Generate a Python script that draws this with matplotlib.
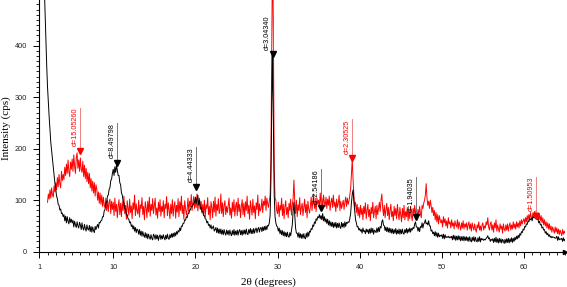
import numpy as np
import matplotlib
matplotlib.use("Agg")
import matplotlib.pyplot as plt
from matplotlib.ticker import FixedLocator, MultipleLocator

# ---------------- data ----------------
step = 0.1
black_start = 1.4
black_counts = [
    700, 610, 520, 465, 410, 362,                        # 1.4 - 1.9
    320, 290, 262, 236, 212, 196, 178, 162, 148, 133,    # 2.0
    122, 108, 103, 92, 90, 81, 83, 74, 75, 68,           # 3.0
    72, 60, 69, 56, 68, 59, 54, 66, 57, 63,              # 4.0
    56, 61, 48, 59, 52, 47, 58, 50, 46, 57,              # 5.0
    52, 43, 56, 46, 42, 53, 45, 40, 52, 44,              # 6.0
    42, 51, 39, 49, 38, 48, 41, 37, 49, 43,              # 7.0
    49, 53, 46, 57, 56, 60, 61, 68, 68, 79,              # 8.0
    82, 94, 96, 108, 110, 121, 124, 138, 141, 152,       # 9.0
    160, 148, 165, 154, 168, 158, 148, 148, 134, 130,    # 10.0
    114, 110, 98, 95, 84, 82, 72, 72, 64, 63,            # 11.0
    56, 58, 49, 52, 44, 50, 40, 47, 37, 44,              # 12.0
    42, 34, 43, 32, 40, 30, 39, 32, 28, 37,              # 13.0
    27, 35, 25, 34, 28, 24, 33, 26, 23, 34,              # 14.0
    31, 24, 33, 25, 32, 22, 29, 33, 24, 31,              # 15.0
    25, 33, 27, 23, 32, 25, 34, 26, 24, 33,              # 16.0
    27, 35, 28, 36, 29, 37, 31, 39, 34, 41,              # 17.0
    38, 46, 41, 50, 49, 55, 55, 62, 61, 68,              # 18.0
    66, 74, 74, 81, 81, 88, 88, 90, 94, 96,              # 19.0
    106, 94, 102, 110, 91, 100, 84, 86, 78, 78,          # 20.0
    70, 70, 64, 63, 56, 59, 51, 53, 46, 52,              # 21.0
    44, 47, 50, 40, 43, 47, 37, 46, 36, 44,              # 22.0
    35, 44, 34, 42, 33, 43, 36, 32, 42, 34,              # 23.0
    41, 32, 42, 35, 31, 41, 33, 43, 32, 40,              # 24.0
    33, 42, 32, 40, 43, 33, 41, 32, 42, 34,              # 25.0
    42, 34, 44, 35, 33, 43, 36, 45, 35, 43,              # 26.0
    35, 45, 36, 43, 46, 37, 44, 47, 38, 46,              # 27.0
    47, 39, 48, 41, 49, 42, 50, 43, 51, 50,              # 28.0
    56, 70, 140, 290, 385, 250, 110, 68, 56, 50,         # 29.0
    48, 40, 46, 35, 42, 33, 41, 31, 39, 30,              # 30.0
    37, 29, 38, 30, 28, 37, 31, 42, 52, 78,              # 31.0
    96, 70, 46, 36, 36, 28, 37, 27, 35, 26,              # 32.0
    34, 26, 35, 27, 25, 36, 28, 38, 30, 40,              # 33.0
    38, 45, 43, 52, 49, 58, 55, 64, 61, 68,              # 34.0
    66, 72, 64, 70, 62, 74, 60, 68, 58, 64,              # 35.0
    55, 63, 52, 60, 50, 58, 49, 57, 47, 56,              # 36.0
    48, 57, 46, 55, 47, 56, 48, 45, 57, 48,              # 37.0
    55, 47, 58, 49, 57, 55, 58, 57, 64, 74,              # 38.0
    95, 112, 120, 96, 78, 62, 56, 48, 49, 42,            # 39.0
    45, 40, 43, 36, 46, 39, 41, 35, 44, 38,              # 40.0
    43, 35, 44, 36, 46, 37, 45, 34, 42, 40,              # 41.0
    37, 46, 38, 47, 39, 49, 46, 58, 62, 52,              # 42.0
    50, 41, 48, 39, 47, 38, 46, 37, 45, 36,              # 43.0
    44, 35, 43, 36, 45, 34, 42, 35, 44, 34,              # 44.0
    43, 35, 44, 36, 34, 43, 37, 45, 36, 44,              # 45.0
    38, 46, 38, 45, 42, 47, 45, 54, 58, 48,              # 46.0
    48, 40, 47, 39, 49, 47, 56, 46, 54, 56,              # 47.0
    62, 54, 56, 52, 60, 50, 50, 40, 42, 35,              # 48.0
    38, 31, 39, 30, 37, 28, 36, 29, 32, 30,              # 49.0
    33, 26, 34, 25, 33, 27, 29, 28, 30, 27,              # 50.0
    29, 27, 30, 23, 32, 24, 31, 22, 30, 23,              # 51.0
    31, 23, 30, 21, 29, 22, 30, 21, 29, 22,              # 52.0
    29, 21, 28, 20, 29, 22, 19, 28, 21, 29,              # 53.0
    20, 28, 21, 19, 27, 20, 29, 19, 26, 23,              # 54.0
    25, 22, 24, 23, 26, 28, 31, 25, 27, 20,              # 55.0
    24, 22, 25, 18, 26, 19, 28, 18, 25, 17,              # 56.0
    26, 18, 25, 17, 24, 21, 16, 24, 17, 25,              # 57.0
    18, 26, 17, 25, 19, 27, 18, 26, 20, 28,              # 58.0
    23, 30, 25, 32, 27, 35, 32, 39, 37, 44,              # 59.0
    42, 49, 48, 54, 53, 60, 58, 64, 62, 65,              # 60.0
    60, 68, 66, 66, 65, 65, 63, 64, 56, 59,              # 61.0
    52, 53, 46, 48, 42, 43, 36, 39, 33, 36,              # 62.0
    30, 33, 28, 30, 27, 29, 28, 28, 26, 27,              # 63.0
    30, 22, 29, 23, 25, 24, 26, 20, 27, 21,              # 64.0
    24,                                                  # 65.0
]

red_start = 2.0
red_counts = [
    96, 112, 102, 120, 104, 124, 110, 106, 128, 116,     # 2.0
    134, 120, 144, 126, 150, 132, 124, 156, 138, 150,    # 3.0
    140, 164, 148, 170, 152, 178, 156, 146, 174, 160,    # 4.0
    180, 156, 188, 166, 152, 182, 192, 162, 178, 156,    # 5.0
    182, 160, 154, 176, 146, 168, 142, 162, 136, 154,    # 6.0
    132, 152, 124, 142, 118, 137, 114, 134, 108, 130,    # 7.0
    122, 100, 116, 94, 114, 92, 110, 88, 106, 90,        # 8.0
    86, 104, 80, 100, 78, 96, 102, 74, 98, 82,           # 9.0
    96, 70, 104, 78, 92, 66, 88, 101, 72, 94,            # 10.0
    68, 97, 80, 108, 74, 90, 63, 99, 85, 71,             # 11.0
    102, 76, 89, 64, 95, 82, 110, 70, 93, 79,            # 12.0
    73, 100, 67, 91, 84, 105, 72, 88, 62, 97,            # 13.0
    86, 66, 98, 77, 106, 69, 92, 80, 103, 74,            # 14.0
    90, 104, 71, 85, 65, 96, 78, 101, 69, 88,            # 15.0
    78, 99, 66, 92, 84, 107, 70, 95, 81, 64,             # 16.0
    92, 74, 101, 69, 88, 97, 65, 90, 77, 103,            # 17.0
    68, 97, 80, 108, 74, 90, 63, 99, 85, 71,             # 18.0
    82, 104, 76, 98, 88, 111, 80, 96, 107, 84,           # 19.0
    100, 86, 112, 79, 96, 104, 82, 98, 75, 92,           # 20.0
    73, 100, 67, 91, 84, 105, 72, 88, 62, 97,            # 21.0
    86, 66, 98, 77, 106, 69, 92, 80, 103, 74,            # 22.0
    80, 112, 74, 95, 68, 90, 99, 72, 88, 76,             # 23.0
    90, 104, 71, 85, 65, 96, 78, 101, 69, 88,            # 24.0
    96, 70, 104, 78, 92, 66, 88, 101, 72, 94,            # 25.0
    68, 97, 80, 108, 74, 90, 63, 99, 85, 71,             # 26.0
    102, 76, 89, 64, 95, 82, 110, 70, 93, 79,            # 27.0
    84, 102, 76, 98, 90, 108, 80, 104, 94, 86,           # 28.0
    98, 110, 180, 400, 600, 420, 160, 104, 100, 80,      # 29.0
    74, 96, 68, 90, 81, 104, 70, 92, 64, 88,             # 30.0
    99, 72, 86, 66, 94, 80, 102, 71, 89, 104,            # 31.0
    139, 96, 74, 100, 68, 91, 80, 105, 72, 86,           # 32.0
    94, 70, 87, 102, 76, 92, 66, 98, 83, 75,             # 33.0
    88, 106, 80, 98, 112, 84, 96, 78, 104, 92,           # 34.0
    100, 86, 114, 92, 104, 82, 110, 96, 88, 106,         # 35.0
    84, 102, 90, 108, 80, 96, 104, 86, 110, 88,          # 36.0
    96, 78, 102, 86, 94, 110, 80, 98, 84, 92,            # 37.0
    100, 82, 96, 106, 88, 104, 92, 98, 110, 122,         # 38.0
    150, 180, 140, 110, 88, 96, 76, 92, 70, 86,          # 39.0
    66, 90, 72, 84, 62, 88, 74, 95, 64, 80,              # 40.0
    92, 68, 82, 60, 86, 74, 96, 66, 78, 88,              # 41.0
    64, 90, 72, 84, 96, 78, 100, 112, 86, 70,            # 42.0
    90, 66, 82, 94, 70, 86, 62, 80, 92, 68,              # 43.0
    78, 60, 88, 70, 84, 64, 92, 74, 62, 86,              # 44.0
    72, 58, 84, 66, 90, 62, 78, 68, 86, 60,              # 45.0
    80, 64, 88, 70, 60, 84, 74, 90, 66, 84,              # 46.0
    62, 82, 70, 88, 74, 66, 90, 84, 94, 100,             # 47.0
    110, 132, 104, 90, 98, 84, 100, 90, 76, 86,          # 48.0
    70, 80, 62, 76, 58, 72, 54, 70, 62, 56,              # 49.0
    62, 48, 68, 56, 64, 50, 60, 46, 66, 54,              # 50.0
    58, 46, 62, 50, 56, 44, 60, 52, 48, 62,              # 51.0
    44, 58, 50, 42, 56, 46, 60, 44, 54, 48,              # 52.0
    56, 42, 52, 58, 44, 54, 40, 56, 48, 42,              # 53.0
    54, 44, 38, 52, 46, 58, 42, 50, 40, 52,              # 54.0
    56, 42, 50, 46, 58, 52, 66, 48, 42, 54,              # 55.0
    58, 42, 52, 38, 56, 46, 62, 40, 52, 44,              # 56.0
    38, 54, 44, 50, 36, 54, 44, 40, 52, 42,              # 57.0
    54, 40, 50, 56, 42, 52, 44, 58, 46, 54,              # 58.0
    44, 58, 48, 56, 46, 60, 50, 62, 54, 60,              # 59.0
    64, 54, 66, 58, 70, 61, 72, 64, 76, 66,              # 60.0
    64, 76, 67, 78, 68, 80, 66, 76, 62, 72,              # 61.0
    60, 70, 56, 66, 52, 62, 50, 58, 46, 56,              # 62.0
    44, 54, 42, 50, 38, 48, 42, 36, 48, 38,              # 63.0
    46, 35, 44, 33, 42, 37, 31, 43, 34, 40,              # 64.0
    36,                                                  # 65.0
]

# peak annotations: (2theta, intensity at arrow, label, series)
peak_2theta = [5.96, 10.5, 20.1, 29.4, 35.3, 39.1, 46.9, 61.5]
peak_level = [195, 173, 126, 383, 84, 181, 68, 69]
peak_labels = ["d=15.05260", "d=8.49798", "d=4.44333", "d=3.04340",
               "d=2.54186", "d=2.30525", "d=1.94035", "d=1.50953"]
peak_series = ["red", "black", "black", "black", "black", "red", "black", "red"]

x_ticks = [1, 10, 20, 30, 40, 50, 60]
y_ticks = [0, 100, 200, 300, 400]

# ---------------- figure ----------------
W, H = 567, 287
fig = plt.figure(figsize=(W / 100, H / 100), dpi=100)
left_px, right_px, bottom_px = 39.3, 565.0, 251.7
ax = fig.add_axes([left_px / W, 1 - bottom_px / H, (right_px - left_px) / W, bottom_px / H])

bx = black_start + step * np.arange(len(black_counts))
rx = red_start + step * np.arange(len(red_counts))

RED = "#ff0000"
ax.plot(rx, red_counts, color=RED, lw=0.7, zorder=2)
ax.plot(bx, black_counts, color="black", lw=0.7, zorder=3)

ax.set_xlim(1, 65)
ax.set_ylim(0, 488.7)

for s in ["top", "right"]:
    ax.spines[s].set_visible(False)
for s in ["left", "bottom"]:
    ax.spines[s].set_linewidth(0.8)

ax.xaxis.set_major_locator(FixedLocator(x_ticks))
ax.xaxis.set_minor_locator(MultipleLocator(1))
ax.yaxis.set_major_locator(FixedLocator(y_ticks))
ax.yaxis.set_minor_locator(MultipleLocator(10))
ax.tick_params(which="major", length=4.3, width=0.7, labelsize=5.3, pad=4.5)
ax.tick_params(which="minor", length=2.2, width=0.6)
for lab in ax.get_xticklabels() + ax.get_yticklabels():
    lab.set_family("Liberation Sans")
    lab.set_color("#222222")

# arrow at end of x axis
ax.plot(1.0, 0.0, marker=">", color="black", markersize=3, transform=ax.transAxes,
        clip_on=False, zorder=5)

fig.text(268 / W, 1 - 282 / H, "2θ (degrees)", family="Liberation Serif", fontsize=8,
         ha="center", va="center")
fig.text(6 / W, 1 - 128 / H, "Intensity (cps)", family="Liberation Serif", fontsize=8,
         ha="center", va="center", rotation=90)

# peak markers with rotated d-spacing labels
texts = []
for x, y, lab, ser in zip(peak_2theta, peak_level, peak_labels, peak_series):
    col = RED if ser == "red" else "black"
    ax.plot(x, y, marker="v", color=col, markersize=4, zorder=6, clip_on=False)
    t = ax.annotate(lab, xy=(x, y), xytext=(-1.2, 3.5), textcoords="offset points",
                    rotation=90, ha="right", va="bottom", fontsize=5.2,
                    family="Liberation Sans", color=col, zorder=6)
    texts.append((t, x, y, ser))

fig.canvas.draw()
renderer = fig.canvas.get_renderer()
inv = ax.transData.inverted()
for t, x, y, ser in texts:
    bb = t.get_window_extent(renderer)
    top_data = inv.transform((0, bb.y1))[1]
    lcol = "#f08080" if ser == "red" else "#777777"
    ax.plot([x, x], [y, top_data], color=lcol, lw=0.7, zorder=5, clip_on=False)

fig.savefig("out.png", dpi=100)
